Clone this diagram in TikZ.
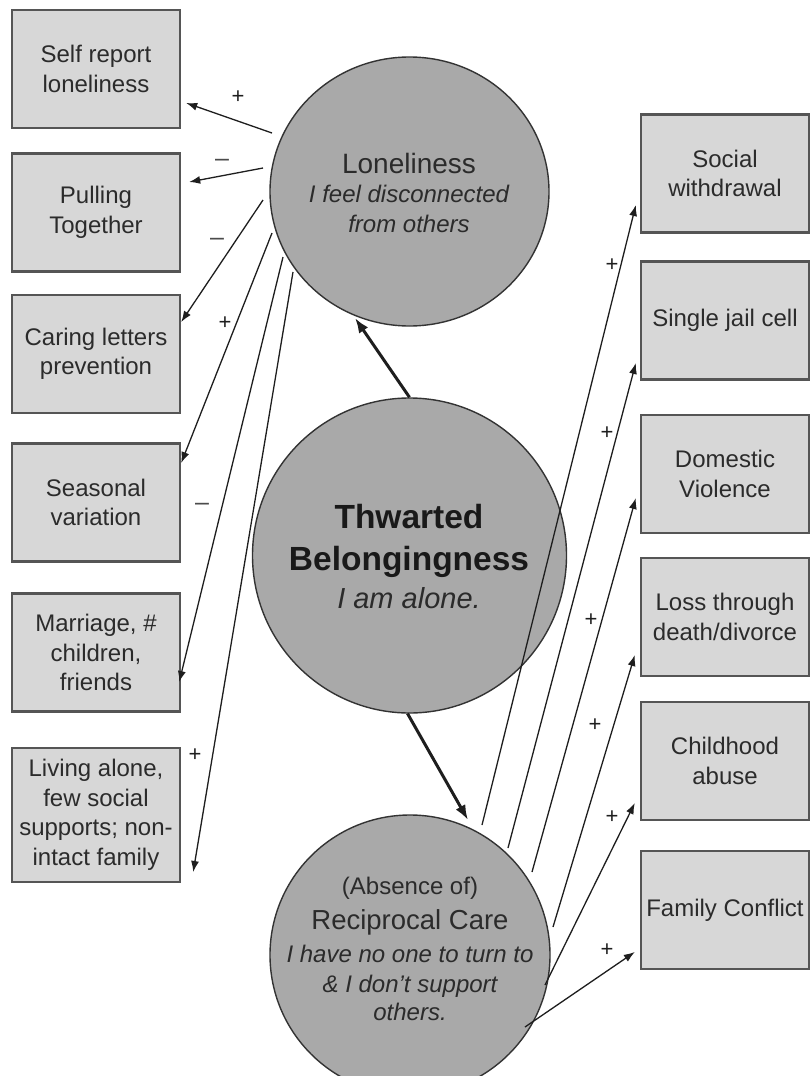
\documentclass[tikz,border=0pt]{standalone}
\usepackage{fontspec}
\setmainfont{Liberation Sans}
\usetikzlibrary{arrows.meta,calc,shapes.geometric}
\definecolor{boxfill}{HTML}{D7D7D7}
\definecolor{boxline}{HTML}{555555}
\definecolor{circfill}{HTML}{A9A9A9}
\definecolor{circline}{HTML}{333333}
\definecolor{txt}{HTML}{2B2B2B}
\definecolor{arrcol}{HTML}{1E1E1E}
\begin{document}
\begin{tikzpicture}[x=1pt,y=-1pt,
 box/.style={draw=boxline,line width=2.4pt,fill=boxfill,minimum width=168pt,minimum height=118pt,inner sep=0pt,align=center,text=txt,font=\fontsize{24}{29.5}\selectfont},
 bigcirc/.style={ellipse,draw=circline,line width=1.4pt,fill=circfill,inner sep=0pt},
 arr/.style={draw=arrcol,line width=1.3pt,-{Latex[length=11pt,width=8pt]}},
 thickarr/.style={draw=arrcol,line width=3pt,-{Latex[length=15pt,width=11pt]}},
 sgn/.style={font=\fontsize{22}{22}\selectfont,text=arrcol,inner sep=0pt},
 dsh/.style={font=\fontsize{25}{25}\selectfont,text=arrcol!80,inner sep=0pt},
 ctext/.style={anchor=base,inner sep=0pt,text=txt}
]
\useasboundingbox (0,0) rectangle (811,1076);
\clip (0,0) rectangle (811,1076);
\fill[white] (0,0) rectangle (811,1076);

% left boxes
\node[box] (b1) at (96,69) {Self report\\loneliness};
\node[box] (b2) at (96,212.5) {Pulling\\Together};
\node[box] (b3) at (96,354) {Caring letters\\prevention};
\node[box] (b4) at (96,502.5) {Seasonal\\variation};
\node[box] (b5) at (96,652.5) {Marriage, \#\\children,\\friends};
\node[box,minimum height=134pt] (b6) at (96,815) {Living alone,\\few social\\supports; non-\\intact family};
% right boxes
\node[box] (r1) at (725,173.5) {Social\\withdrawal};
\node[box] (r2) at (725,320.5) {Single jail cell};
\node[box] (r3) at (725,474) {Domestic\\Violence};
\node[box] (r4) at (725,617) {Loss through\\death/divorce};
\node[box] (r5) at (725,761) {Childhood\\abuse};
\node[box] (r6) at (725,910) {Family Conflict};

% circles
\node[bigcirc,minimum width=279pt,minimum height=269pt] (lon) at (409.5,191.5) {};
\node[bigcirc,minimum width=314pt,minimum height=315pt] (thw) at (409.5,555.5) {};
\node[bigcirc,minimum width=280pt,minimum height=280pt] (rec) at (410,955) {};

% circle texts
\node[ctext,font=\fontsize{28}{28}\selectfont] (lonA) at (409,173) {Loneliness};
\node[ctext,font=\fontsize{24}{24}\selectfont\itshape] (lonB) at (409,202) {I feel disconnected};
\node[ctext,font=\fontsize{24}{24}\selectfont\itshape] (lonC) at (409,232) {from others};
\node[ctext,text=black!90,font=\fontsize{33.5}{33.5}\selectfont\bfseries] (thwA) at (409,528) {Thwarted};
\node[ctext,text=black!90,font=\fontsize{33.5}{33.5}\selectfont\bfseries] (thwB) at (409,570) {Belongingness};
\node[ctext,font=\fontsize{29}{29}\selectfont\itshape] (thwC) at (409,608) {I am alone.};
\node[ctext,font=\fontsize{24}{24}\selectfont] (recA) at (410,894) {(Absence of)};
\node[ctext,font=\fontsize{27.5}{27.5}\selectfont] (recB) at (410,929) {Reciprocal Care};
\node[ctext,font=\fontsize{24}{24}\selectfont\itshape] (recC) at (410,962) {I have no one to turn to};
\node[ctext,font=\fontsize{24}{24}\selectfont\itshape] (recD) at (410,992) {\& I don’t support};
\node[ctext,font=\fontsize{24}{24}\selectfont\itshape] (recE) at (410,1020) {others.};

% thick arrows
\draw[thickarr] (thw.north) -- ($(lon)+(-54.5,126.5)$);
\draw[thickarr] ($(thw)+(-2,158)$) -- ($(rec)+(58,-135)$);

% left arrows
\draw[arr] ($(lon)+(-137.5,-58.5)$) -- ($(b1.east)+(5,34)$);
\draw[arr] ($(lon)+(-146.5,-23.5)$) -- ($(b2.east)+(8,-30.5)$);
\draw[arr] ($(lon)+(-146.5,8.5)$) -- ($(b3.east)+(0,-32)$);
\draw[arr] ($(lon)+(-137.5,41.5)$) -- ($(b4.east)+(0,-39.5)$);
\draw[arr] ($(lon)+(-126.5,65.5)$) -- ($(b5.east)+(-2,29.5)$);
\draw[arr] ($(lon)+(-116.5,80.5)$) -- ($(b6.east)+(12,57)$);

% right arrows
\draw[arr] ($(rec)+(72,-130)$) -- ($(r1.west)+(-4,31.5)$);
\draw[arr] ($(rec)+(98,-107)$) -- ($(r2.west)+(-4,42.5)$);
\draw[arr] ($(rec)+(122,-83)$) -- ($(r3.west)+(-4,24)$);
\draw[arr] ($(rec)+(143,-28)$) -- ($(r4.west)+(-5,38)$);
\draw[arr] ($(rec)+(135,30)$) -- ($(r5.west)+(-5,42)$);
\draw[arr] ($(rec)+(115,72)$) -- ($(r6.west)+(-5,42)$);

% signs
\node[sgn] (s1) at (238,97) {+};
\node[dsh] (s2) at (222,163) {–};
\node[dsh] (s3) at (217,242) {–};
\node[sgn] (s4) at (225,323) {+};
\node[dsh] (s5) at (202,507) {–};
\node[sgn] (s6) at (195,755) {+};
\node[sgn] (t1) at (612,265) {+};
\node[sgn] (t2) at (607,433) {+};
\node[sgn] (t3) at (591,620) {+};
\node[sgn] (t4) at (595,725) {+};
\node[sgn] (t5) at (612,817) {+};
\node[sgn] (t6) at (607,950) {+};
\end{tikzpicture}
\end{document}
